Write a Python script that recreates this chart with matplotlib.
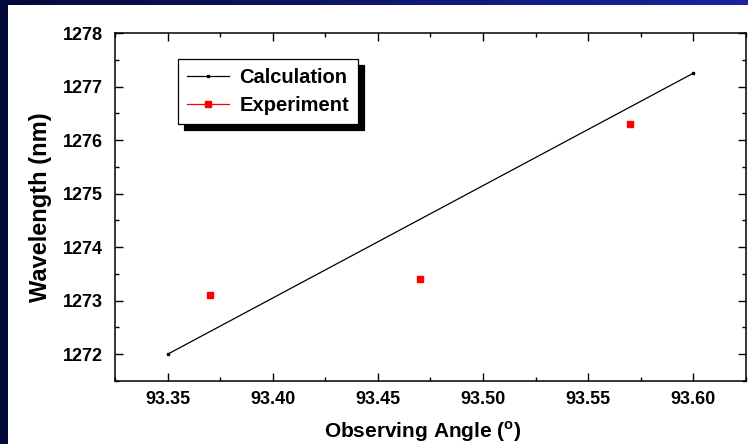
import matplotlib.pyplot as plt
import numpy as np
from matplotlib.ticker import MultipleLocator
from matplotlib.patches import Rectangle

calc_angle = [93.35, 93.60]
calc_wavelength = [1272.0, 1277.25]

exp_angle = [93.37, 93.47, 93.57]
exp_wavelength = [1273.1, 1273.4, 1276.3]

plt.rcParams['font.family'] = ['Liberation Sans', 'DejaVu Sans']
plt.rcParams['font.weight'] = 'bold'

fig = plt.figure(figsize=(7.48, 4.44), dpi=100)
fig.patch.set_facecolor('white')

# dark blue slide frame: left strip and gradient top strip
fig.add_artist(Rectangle((0, 0), 8 / 748, 1, transform=fig.transFigure, color='#020a3a', lw=0))
c0 = np.array([0x02, 0x0a, 0x3a]) / 255
c1 = np.array([0x1c, 0x22, 0xa0]) / 255
n = 60
for i in range(n):
    t = i / (n - 1)
    fig.add_artist(Rectangle((i / n, 1 - 5 / 444), 1 / n + 0.001, 5 / 444, transform=fig.transFigure,
                             color=tuple(c0 + (c1 - c0) * t), lw=0))

ax = fig.add_axes([115 / 748, 1 - 381 / 444, 631 / 748, 348 / 444])
ax.plot(calc_angle, calc_wavelength, color='black', lw=0.9, marker='s', markersize=1.5, label='Calculation')
ax.plot(exp_angle, exp_wavelength, color='red', lw=0.9, ls='none', marker='s', markersize=5, label='Experiment')

ax.set_xlim(93.325, 93.625)
ax.set_ylim(1271.5, 1278)
ax.xaxis.set_minor_locator(MultipleLocator(0.025))
ax.yaxis.set_major_locator(MultipleLocator(1))
ax.yaxis.set_minor_locator(MultipleLocator(0.5))
ax.set_xticks([93.35, 93.40, 93.45, 93.50, 93.55, 93.60])
ax.set_xticklabels(['93.35', '93.40', '93.45', '93.50', '93.55', '93.60'])
ax.tick_params(which='both', direction='in', top=True, right=True, width=1)
ax.tick_params(which='major', length=6, labelsize=13)
ax.tick_params(axis='x', which='major', pad=7)
ax.tick_params(axis='y', which='major', pad=8.5)
ax.tick_params(which='minor', length=3)
for s in ax.spines.values():
    s.set_linewidth(1.1)

ax.set_xlabel('Observing Angle ($^{\\mathregular{o}}$)', fontsize=15, fontweight='bold', labelpad=8)
ax.xaxis.label.set_x(0.487)
ax.set_ylabel('Wavelength (nm)', fontsize=17, fontweight='bold', labelpad=8)

leg = ax.legend(loc='upper left', bbox_to_anchor=(0.0998, 0.925), borderaxespad=0, fancybox=False,
                edgecolor='black', framealpha=1, fontsize=14.5, handlelength=2.1, handletextpad=0.5,
                borderpad=0.45, labelspacing=0.45,
                shadow={'color': 'black', 'alpha': 1, 'ox': 4.3, 'oy': -4.3})
leg.get_frame().set_linewidth(0.9)
for h in leg.get_lines():
    h.set_linestyle('-')

fig.savefig('out.png', dpi=100)
